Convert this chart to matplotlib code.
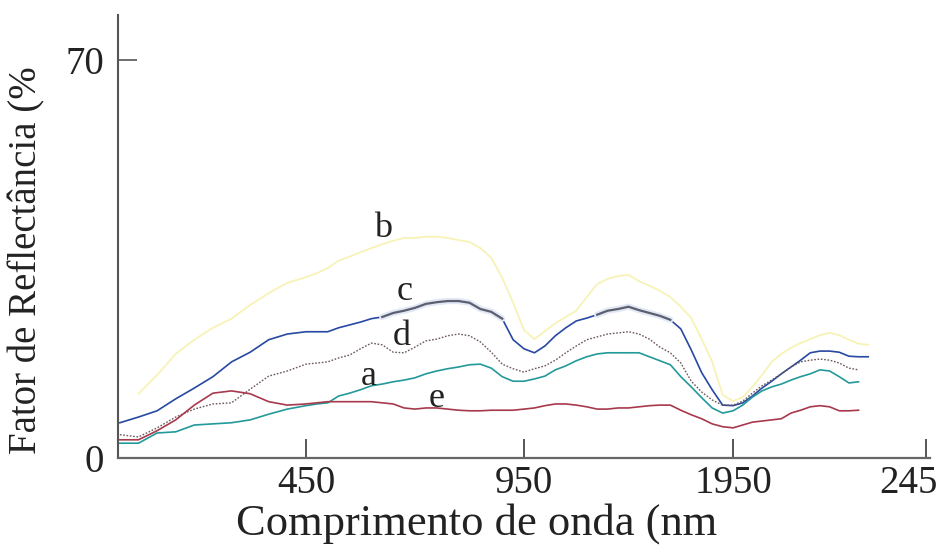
import numpy as np
import matplotlib
matplotlib.use('Agg')
import matplotlib.pyplot as plt
from matplotlib.transforms import ScaledTranslation

# wavelength samples (nm) shared by all spectra
WAVELENGTH = [350, 360, 370, 380, 390, 400, 410, 420, 430, 440, 450,
              475, 500, 525, 550, 575, 600, 625, 650, 675, 700, 725, 750, 775, 800,
              825, 850, 875, 900, 925, 950,
              1000, 1050, 1100, 1150, 1200, 1250, 1300, 1350, 1400, 1450, 1500, 1550,
              1600, 1650, 1700, 1750, 1800, 1850, 1900, 1950,
              1975, 2000, 2025, 2050, 2075, 2100, 2125, 2150, 2175, 2200, 2225, 2250,
              2275, 2300]

nan = np.nan
REFL_A = [2.6, 2.6, 4.4, 4.6, 5.8, 6.0, 6.2, 6.7, 7.7, 8.6, 9.2,
          9.5, 9.7, 10.9, 11.4, 12.0, 12.7, 13.0, 13.4, 13.7, 14.1, 14.8, 15.3, 15.7, 16.0,
          16.4, 16.5, 15.8, 14.3, 13.5, 13.5,
          13.9, 14.4, 15.5, 16.2, 17.1, 17.8, 18.3, 18.5, 18.5, 18.5, 18.5, 17.8,
          17.1, 16.4, 14.3, 12.5, 10.6, 8.8, 7.9, 8.3,
          9.3, 10.7, 11.8, 12.5, 13.0, 13.7, 14.3, 14.8, 15.5, 15.3, 14.3, 13.2,
          13.4, nan]
REFL_B = [nan, 11.3, 14.6, 18.3, 20.8, 22.9, 24.5, 26.9, 29.0, 30.8, 31.8,
          32.5, 33.4, 34.7, 35.4, 36.2, 36.9, 37.6, 38.2, 38.7, 38.7, 38.9, 38.9, 38.7, 38.3,
          38.0, 36.9, 35.2, 31.7, 27.3, 22.5,
          20.9, 22.3, 23.7, 24.8, 25.9, 28.3, 30.6, 31.5, 32.0, 32.2, 31.1, 30.3,
          29.4, 28.3, 26.6, 24.6, 20.9, 16.9, 11.1, 10.0,
          10.7, 12.5, 14.6, 16.9, 18.3, 19.4, 20.2, 20.9, 21.6, 22.0, 21.6, 20.8,
          20.1, 19.9]
REFL_C = [6.2, 7.2, 8.3, 10.4, 12.3, 14.3, 16.9, 18.6, 20.8, 21.8, 22.2,
          22.2, 22.2, 22.9, 23.4, 23.9, 24.5, 24.8, 25.5, 25.9, 26.4, 27.1, 27.4, 27.6, 27.6,
          27.3, 26.2, 25.7, 24.5, 20.8, 19.2,
          18.5, 19.7, 21.5, 22.9, 24.1, 24.6, 25.2, 25.9, 26.2, 26.6, 26.0, 25.5,
          25.0, 24.3, 22.7, 19.0, 15.0, 12.0, 9.3, 9.2,
          9.7, 10.9, 12.3, 13.5, 14.8, 16.0, 17.2, 18.5, 18.8, 18.8, 18.6, 17.9,
          17.8, 17.8]
REFL_D = [4.1, 3.7, 5.3, 7.2, 8.6, 9.5, 9.7, 12.1, 14.4, 15.3, 16.5,
          16.7, 16.9, 17.6, 18.1, 19.2, 20.2, 19.9, 18.6, 18.5, 19.5, 20.6, 20.9, 21.5, 21.8,
          21.5, 20.4, 18.6, 16.5, 15.7, 15.1,
          15.7, 16.2, 17.2, 18.5, 19.7, 20.8, 21.3, 21.8, 22.0, 22.2, 21.8, 20.9,
          19.5, 18.5, 16.7, 13.5, 11.6, 10.2, 9.3, 9.3,
          10.0, 11.4, 12.7, 13.7, 14.8, 16.0, 16.9, 17.2, 17.4, 17.2, 16.7, 15.8,
          15.5, nan]
REFL_E = [3.2, 3.2, 4.8, 6.7, 9.3, 11.4, 11.8, 11.3, 9.9, 9.3, 9.5,
          9.7, 9.9, 9.9, 9.9, 9.9, 9.9, 9.7, 9.5, 8.8, 8.6, 8.8, 8.8, 8.6, 8.4,
          8.3, 8.3, 8.4, 8.4, 8.4, 8.6,
          8.8, 9.2, 9.5, 9.5, 9.3, 9.0, 8.6, 8.6, 8.8, 8.8, 9.0, 9.2,
          9.3, 9.3, 8.4, 7.6, 6.9, 6.0, 5.5, 5.3,
          5.8, 6.3, 6.5, 6.7, 6.9, 7.9, 8.4, 9.0, 9.2, 9.0, 8.3, 8.3,
          8.4, nan]

XTICKS = [450, 950, 1950, 2450]
XTICK_LABELS = ['450', '950', '1950', '245']
YTICKS = [0, 70]

# the printed wavelength axis is not linear: piecewise spacing between ticks
AXIS_NM = np.array([350, 450, 950, 1950, 2450], dtype=float)
AXIS_POS = np.array([120, 306, 524, 733, 926], dtype=float)


def _piecewise(v, src, dst):
    v = np.asarray(v, dtype=float)
    out = np.interp(v, src, dst)
    lo = v < src[0]
    hi = v > src[-1]
    out = np.where(lo, dst[0] + (v - src[0]) * (dst[1] - dst[0]) / (src[1] - src[0]), out)
    out = np.where(hi, dst[-1] + (v - src[-1]) * (dst[-1] - dst[-2]) / (src[-1] - src[-2]), out)
    return out


def nm_to_pos(v):
    return _piecewise(v, AXIS_NM, AXIS_POS)


def pos_to_nm(v):
    return _piecewise(v, AXIS_POS, AXIS_NM)


plt.rcParams['font.family'] = ['Liberation Serif', 'DejaVu Serif']

fig = plt.figure(figsize=(9.39, 5.54), dpi=100)
ax = fig.add_axes([0.1257, 0.1733, 0.8647, 0.7996])
ax.set_xscale('function', functions=(nm_to_pos, pos_to_nm))

wl = np.array(WAVELENGTH, dtype=float)
ax.plot(wl, REFL_B, color='#f7f3b6', lw=1.3)
ax.plot(wl, REFL_C, color='#2748a3', lw=1.2)
# darker stretches of curve c
c = np.array(REFL_C)
dark = ((wl >= 625) & (wl <= 900)) | ((wl >= 1300) & (wl <= 1650))
ax.plot(wl, np.where(dark, c, np.nan), color='#e2e8f4', lw=4.5, solid_capstyle='round')
ax.plot(wl, np.where(dark, c, np.nan), color='#5b5f70', lw=1.6)
ax.plot(wl, REFL_D, color='#6e5858', lw=1.0, linestyle=(0, (1.2, 1.2)))
ax.plot(wl, REFL_A, color='#23999a', lw=1.2)
ax.plot(wl, REFL_E, color='#a8394d', lw=1.2)

label_kw = dict(fontsize=26, color='#222222', ha='center', va='center')
ax.text(627, 40.4, 'b', **label_kw)
ax.text(677, 29.2, 'c', **label_kw)
ax.text(670, 21.3, 'd', **label_kw)
ax.text(595, 14.4, 'a', **label_kw)
ax.text(750, 10.4, 'e', **label_kw)

ax.set_xlim(349, 2460)
ax.set_ylim(0, 77.9)

ax.set_xticks(XTICKS)
ax.set_xticklabels(XTICK_LABELS)
ax.set_yticks(YTICKS)
ax.set_yticklabels([str(t) for t in YTICKS])
ax.xaxis.set_minor_locator(plt.NullLocator())

ax.tick_params(axis='x', direction='in', length=14, width=1.4, color='#555555',
               labelsize=28, pad=5, labelcolor='#222222')
ax.tick_params(axis='y', direction='in', length=14, width=1.2, color='#555555',
               labelsize=28, pad=10, labelcolor='#222222')
ax.yaxis.get_major_ticks()[0].tick1line.set_visible(False)

last = ax.get_xticklabels()[-1]
last.set_horizontalalignment('right')
last.set_transform(last.get_transform() + ScaledTranslation(8 / 72, 0, fig.dpi_scale_trans))

for side in ('top', 'right'):
    ax.spines[side].set_visible(False)
ax.spines['left'].set_color('#555555')
ax.spines['left'].set_linewidth(1.5)
ax.spines['bottom'].set_color('#666666')
ax.spines['bottom'].set_linewidth(1.6)

ax.set_xlabel('Comprimento de onda (nm', fontsize=32, color='#222222')
ax.xaxis.set_label_coords(0.442, -0.102)
ax.set_ylabel('Fator de Reflectância (%', fontsize=28, color='#222222')
ax.yaxis.set_label_coords(-0.09, 0.447)

fig.savefig('out.png', dpi=100, facecolor='white')
